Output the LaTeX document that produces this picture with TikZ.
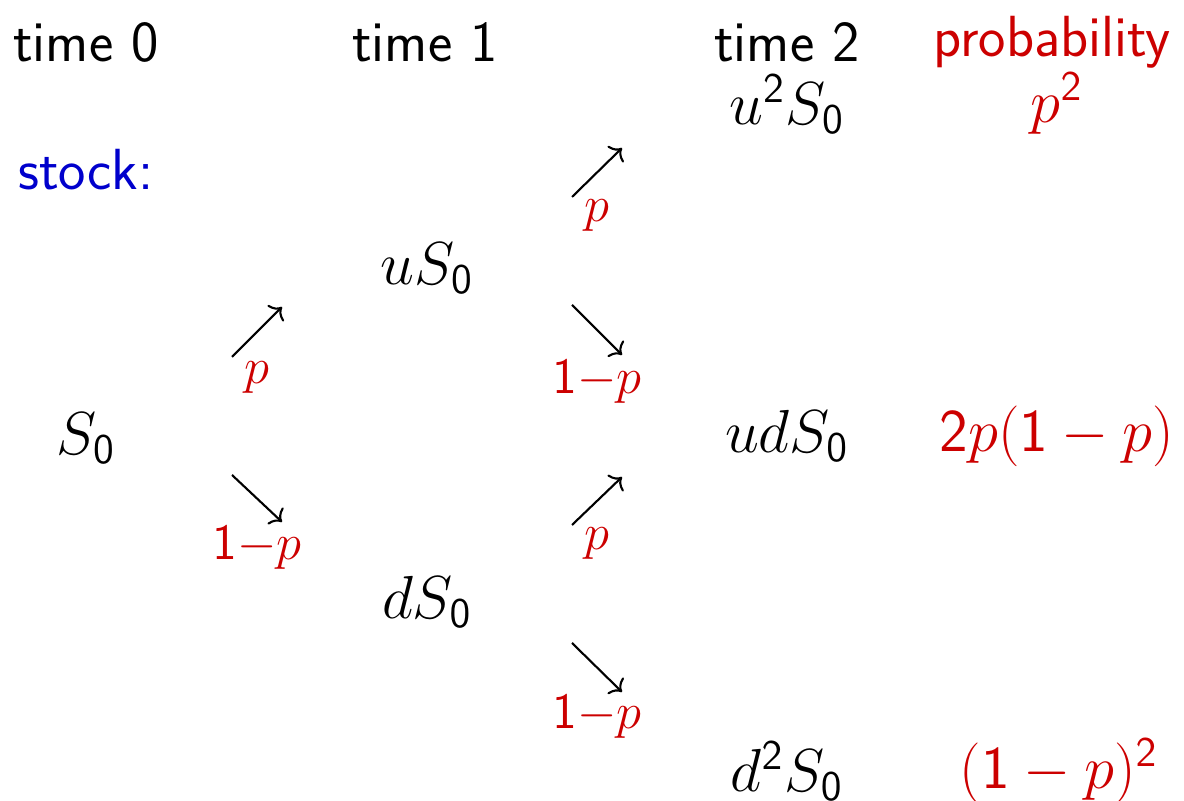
\documentclass[tikz,border=0pt]{standalone}
\usetikzlibrary{arrows.meta}
\definecolor{myred}{RGB}{204,0,0}
\definecolor{myblue}{RGB}{0,0,204}
\DeclareMathSizes{16.5}{16.5}{12.9}{10}
\newcommand{\sd}[1]{\mathsf{#1}}
\begin{document}
\begin{tikzpicture}[x=0.01cm,y=-0.01cm,
  txt/.style={inner sep=0pt,font=\fontsize{16.5}{19}\sffamily},
  mth/.style={inner sep=0pt,font=\fontsize{16.5}{19}\selectfont},
  lbl/.style={inner sep=0pt,text=myred,font=\fontsize{13.7}{16}\selectfont},
  arr/.style={line width=0.6pt,-{To[length=2.8pt,width=6.5pt]}}]
\useasboundingbox (0,0) rectangle (1184,801);
% headers
\node[txt] (t0) at (86,42) {time 0};
\node[txt] (t1) at (425,42) {time 1};
\node[txt] (t2) at (787,42) {time 2};
\node[txt,text=myred] (pr) at (1052,42) {probability};
\node[txt,text=myblue] (st) at (86,170) {stock:};
% values
\node[mth] (uu) at (787,104) {$u^{\sd{2}}S_{\sd{0}}$};
\node[mth,text=myred] (puu) at (1057,104) {$p^{\sd{2}}$};
\node[mth] (u) at (427,268) {$uS_{\sd{0}}$};
\node[mth] (s) at (86,438) {$S_{\sd{0}}$};
\node[mth] (ud) at (787,436) {$udS_{\sd{0}}$};
\node[mth,text=myred] (pud) at (1057,436) {$\sd{2}p(\sd{1}-p)$};
\node[mth] (d) at (427,602) {$dS_{\sd{0}}$};
\node[mth] (dd) at (787,771) {$d^{\sd{2}}S_{\sd{0}}$};
\node[mth,text=myred] (pdd) at (1059,771) {$(\sd{1}-p)^{\sd{2}}$};
% arrows
\coordinate (a1s) at (232,357); \coordinate (a1e) at (282,307);
\coordinate (a2s) at (232,475); \coordinate (a2e) at (282,522);
\coordinate (a3s) at (572,197); \coordinate (a3e) at (622,148);
\coordinate (a4s) at (572,305); \coordinate (a4e) at (622,355);
\coordinate (a5s) at (572,525); \coordinate (a5e) at (622,477);
\coordinate (a6s) at (572,643); \coordinate (a6e) at (622,692);
\draw[arr] (a1s) -- (a1e);
\draw[arr] (a2s) -- (a2e);
\draw[arr] (a3s) -- (a3e);
\draw[arr] (a4s) -- (a4e);
\draw[arr] (a5s) -- (a5e);
\draw[arr] (a6s) -- (a6e);
\node[lbl] (l1) at (257,378) {$p$};
\node[lbl] (l2) at (257,548) {$\sd{1}{-}p$};
\node[lbl] (l3) at (597,216) {$p$};
\node[lbl] (l4) at (597,382) {$\sd{1}{-}p$};
\node[lbl] (l5) at (597,544) {$p$};
\node[lbl] (l6) at (597,717) {$\sd{1}{-}p$};
\end{tikzpicture}
\end{document}
